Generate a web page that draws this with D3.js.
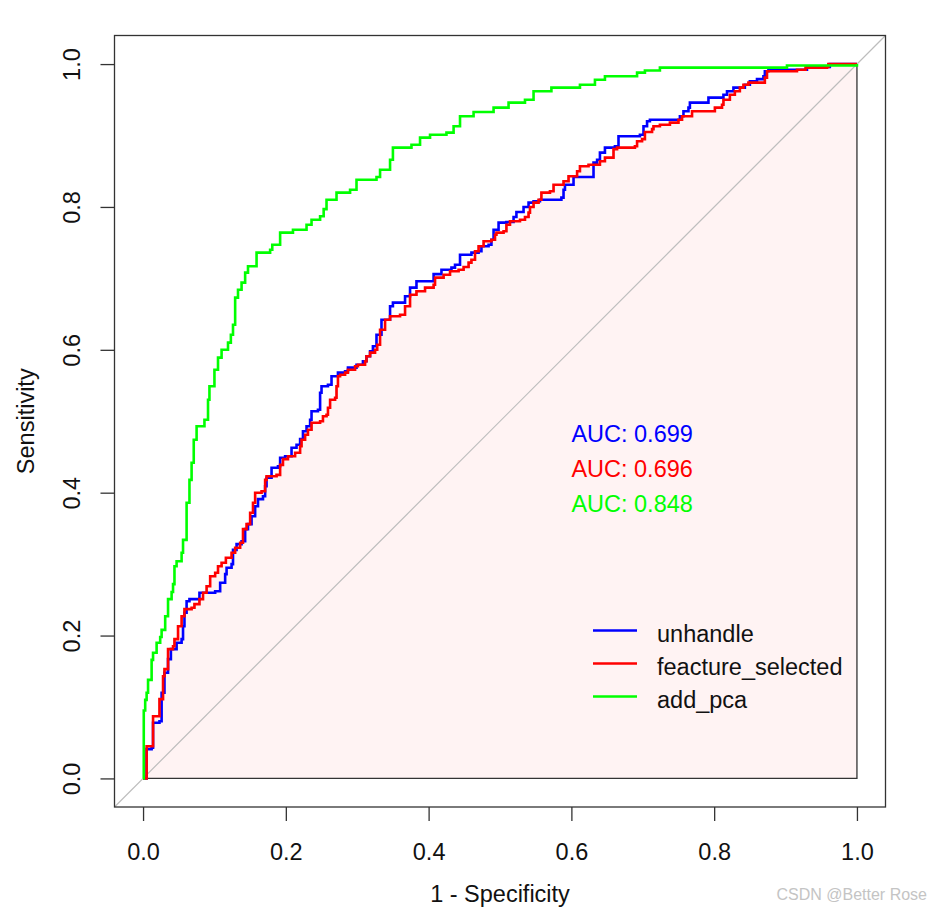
<!DOCTYPE html>
<html>
<head>
<meta charset="utf-8">
<script src="https://cdn.jsdelivr.net/npm/d3@7"></script>
<style>
  body { margin: 0; background: #fff; }
  svg { display: block; font-family: "Liberation Sans", Arial, sans-serif; }
</style>
</head>
<body>
<svg id="chart" width="931" height="910"></svg>
<script>
// ROC points, [1 - specificity, sensitivity]
var unhandle = [
  [0,0],[0.005,0.004],[0.005,0.041],[0.012,0.043],[0.014,0.078],[0.023,0.080],[0.026,0.120],
  [0.030,0.148],[0.035,0.167],[0.039,0.181],[0.047,0.190],[0.054,0.195],[0.056,0.213],[0.058,0.232],
  [0.061,0.248],[0.065,0.251],[0.079,0.260],[0.096,0.260],[0.101,0.262],[0.108,0.274],[0.115,0.286],
  [0.117,0.295],[0.124,0.300],[0.126,0.320],[0.131,0.328],[0.138,0.332],[0.143,0.349],[0.147,0.356],
  [0.152,0.367],[0.157,0.381],[0.161,0.391],[0.168,0.395],[0.171,0.409],[0.173,0.421],[0.180,0.435],
  [0.189,0.437],[0.192,0.449],[0.199,0.451],[0.208,0.463],[0.215,0.467],[0.220,0.475],[0.224,0.486],
  [0.229,0.493],[0.234,0.502],[0.236,0.514],[0.245,0.516],[0.248,0.540],[0.250,0.549],[0.259,0.551],
  [0.264,0.563],[0.273,0.568],[0.283,0.570],[0.287,0.575],[0.299,0.579],[0.308,0.584],[0.313,0.591],
  [0.318,0.598],[0.322,0.605],[0.327,0.621],[0.334,0.642],[0.346,0.661],[0.350,0.666],[0.360,0.666],
  [0.367,0.675],[0.374,0.687],[0.383,0.696],[0.397,0.696],[0.407,0.706],[0.418,0.712],[0.432,0.715],
  [0.437,0.719],[0.444,0.733],[0.460,0.736],[0.470,0.738],[0.474,0.745],[0.484,0.747],[0.488,0.754],
  [0.491,0.768],[0.498,0.778],[0.509,0.779],[0.519,0.786],[0.523,0.793],[0.533,0.800],[0.540,0.806],
  [0.547,0.808],[0.556,0.810],[0.570,0.810],[0.586,0.813],[0.589,0.824],[0.591,0.831],[0.603,0.842],
  [0.629,0.842],[0.631,0.862],[0.636,0.866],[0.640,0.876],[0.647,0.883],[0.661,0.885],[0.666,0.899],
  [0.696,0.901],[0.701,0.913],[0.706,0.920],[0.710,0.922],[0.743,0.922],[0.752,0.927],[0.757,0.934],
  [0.764,0.939],[0.766,0.946],[0.785,0.946],[0.792,0.953],[0.813,0.957],[0.818,0.962],[0.827,0.967],
  [0.843,0.971],[0.850,0.976],[0.860,0.979],[0.869,0.983],[0.871,0.990],[0.876,0.992],[0.925,0.992],
  [0.930,0.996],[0.960,0.996],[0.962,1],[1,1]
]

var feactureSelected = [
  [0,0],[0.005,0.003],[0.005,0.045],[0.012,0.045],[0.014,0.087],[0.021,0.087],[0.023,0.111],
  [0.026,0.111],[0.028,0.143],[0.030,0.153],[0.035,0.181],[0.042,0.185],[0.044,0.195],[0.049,0.213],
  [0.054,0.227],[0.058,0.237],[0.068,0.239],[0.072,0.244],[0.079,0.251],[0.084,0.260],[0.089,0.269],
  [0.094,0.283],[0.101,0.288],[0.105,0.297],[0.110,0.302],[0.116,0.309],[0.124,0.316],[0.129,0.323],
  [0.136,0.330],[0.140,0.349],[0.145,0.356],[0.150,0.372],[0.154,0.386],[0.157,0.400],[0.166,0.402],
  [0.171,0.418],[0.173,0.423],[0.187,0.425],[0.192,0.439],[0.196,0.447],[0.203,0.451],[0.213,0.456],
  [0.220,0.465],[0.222,0.474],[0.227,0.481],[0.231,0.488],[0.236,0.498],[0.248,0.500],[0.252,0.507],
  [0.257,0.509],[0.259,0.519],[0.262,0.530],[0.269,0.533],[0.271,0.549],[0.273,0.563],[0.276,0.565],
  [0.283,0.568],[0.287,0.572],[0.297,0.577],[0.301,0.579],[0.311,0.584],[0.313,0.591],[0.318,0.596],
  [0.325,0.600],[0.328,0.607],[0.332,0.628],[0.339,0.642],[0.346,0.647],[0.360,0.649],[0.367,0.661],
  [0.374,0.677],[0.383,0.682],[0.395,0.687],[0.407,0.691],[0.409,0.701],[0.421,0.705],[0.430,0.710],
  [0.442,0.712],[0.449,0.716],[0.456,0.722],[0.460,0.726],[0.465,0.738],[0.470,0.745],[0.477,0.752],
  [0.488,0.754],[0.493,0.761],[0.495,0.764],[0.505,0.766],[0.509,0.775],[0.514,0.780],[0.528,0.782],
  [0.535,0.786],[0.540,0.792],[0.542,0.800],[0.547,0.806],[0.554,0.810],[0.558,0.820],[0.570,0.822],
  [0.575,0.831],[0.589,0.836],[0.596,0.843],[0.608,0.850],[0.612,0.857],[0.624,0.859],[0.640,0.864],
  [0.647,0.869],[0.659,0.881],[0.664,0.883],[0.689,0.885],[0.692,0.892],[0.699,0.895],[0.703,0.905],
  [0.713,0.909],[0.715,0.913],[0.724,0.915],[0.738,0.918],[0.750,0.922],[0.755,0.927],[0.769,0.934],
  [0.792,0.934],[0.801,0.939],[0.811,0.943],[0.813,0.950],[0.822,0.957],[0.829,0.962],[0.836,0.967],
  [0.841,0.971],[0.848,0.974],[0.869,0.974],[0.871,0.981],[0.874,0.990],[0.914,0.990],[0.916,0.992],
  [0.928,0.995],[0.958,0.996],[0.960,1],[1,1]
]

var addPca = [
  [0,0],[0.001,0.095],[0.003,0.110],[0.005,0.120],[0.007,0.138],[0.012,0.166],[0.014,0.176],
  [0.019,0.190],[0.024,0.198],[0.026,0.208],[0.031,0.227],[0.035,0.251],[0.040,0.261],[0.042,0.272],
  [0.044,0.297],[0.047,0.304],[0.054,0.316],[0.056,0.334],[0.061,0.386],[0.065,0.418],[0.068,0.442],
  [0.071,0.474],[0.075,0.493],[0.086,0.502],[0.091,0.530],[0.093,0.549],[0.100,0.572],[0.105,0.589],
  [0.110,0.600],[0.119,0.610],[0.123,0.621],[0.126,0.635],[0.129,0.673],[0.133,0.684],[0.138,0.694],
  [0.143,0.708],[0.147,0.717],[0.159,0.736],[0.178,0.740],[0.181,0.747],[0.192,0.764],[0.210,0.768],
  [0.229,0.775],[0.236,0.782],[0.248,0.787],[0.253,0.797],[0.257,0.810],[0.271,0.820],[0.290,0.824],
  [0.299,0.838],[0.327,0.842],[0.332,0.852],[0.346,0.866],[0.350,0.883],[0.376,0.887],[0.388,0.897],
  [0.402,0.901],[0.425,0.904],[0.435,0.913],[0.444,0.927],[0.463,0.933],[0.491,0.939],[0.512,0.946],
  [0.535,0.950],[0.547,0.962],[0.572,0.967],[0.612,0.971],[0.633,0.978],[0.647,0.983],[0.692,0.988],
  [0.703,0.991],[0.724,0.995],[0.902,0.998],[1,1]
]

var seriesNames = ["unhandle", "feacture_selected", "add_pca"]
var seriesColors = ["#0000ff", "#ff0000", "#00ff00"]
var aucValues = [0.699, 0.696, 0.848]
var tickValues = [0, 0.2, 0.4, 0.6, 0.8, 1.0]

var svg = d3.select("#chart")
var fontSize = 23.5

// plot region, R style with 4% padding on each side
var x = d3.scaleLinear().domain([-0.04, 1.04]).range([114.5, 885.5])
var y = d3.scaleLinear().domain([-0.04, 1.04]).range([807, 35.5])

var rocLine = d3.line()
  .x(d => x(d[0]))
  .y(d => y(d[1]))
  .curve(d3.curveStepAfter)

// auc polygon under feacture_selected
svg.append("path")
  .attr("d", rocLine(feactureSelected.concat([[1, 0], [0, 0]])) + "Z")
  .attr("fill", "#fff3f3")
  .attr("stroke", "#333")
  .attr("stroke-width", 1.3)

// reference diagonal across whole box
svg.append("line")
  .attr("x1", x(-0.04)).attr("y1", y(-0.04))
  .attr("x2", x(1.04)).attr("y2", y(1.04))
  .attr("stroke", "#bdbdbd")
  .attr("stroke-width", 1.2)

var allSeries = [unhandle, feactureSelected, addPca]
svg.append("g")
  .selectAll("path")
  .data(allSeries)
  .join("path")
  .attr("d", d => rocLine(d))
  .attr("fill", "none")
  .attr("stroke", (d, i) => seriesColors[i])
  .attr("stroke-width", 2.6)

// box
svg.append("rect")
  .attr("x", 114.5).attr("y", 35.5)
  .attr("width", 885.5 - 114.5).attr("height", 807 - 35.5)
  .attr("fill", "none")
  .attr("stroke", "#333")
  .attr("stroke-width", 1.3)

var xAxis = svg.append("g")
  .attr("transform", "translate(0,807)")
  .call(d3.axisBottom(x).tickValues(tickValues).tickSize(14).tickPadding(22).tickFormat(d3.format(".1f")))
var yAxis = svg.append("g")
  .attr("transform", "translate(114.5,0)")
  .call(d3.axisLeft(y).tickValues(tickValues).tickSize(14).tickFormat(d3.format(".1f")))

svg.selectAll(".domain").remove()
svg.selectAll(".tick line").attr("stroke", "#333").attr("stroke-width", 1.3)
svg.selectAll(".tick text")
  .attr("font-family", "Liberation Sans, Arial, sans-serif")
  .attr("font-size", fontSize)
  .attr("fill", "#111")
yAxis.selectAll(".tick text")
  .attr("x", null).attr("dy", null)
  .attr("text-anchor", "middle")
  .attr("transform", "translate(-34.5,0) rotate(-90)")

svg.append("text")
  .attr("x", x(0.5)).attr("y", 902)
  .attr("text-anchor", "middle")
  .attr("font-size", fontSize)
  .attr("fill", "#111")
  .text("1 - Specificity")
svg.append("text")
  .attr("transform", "translate(34," + y(0.5) + ") rotate(-90)")
  .attr("text-anchor", "middle")
  .attr("font-size", fontSize)
  .attr("fill", "#111")
  .text("Sensitivity")

// auc labels
svg.append("g")
  .selectAll("text")
  .data(aucValues)
  .join("text")
  .attr("x", x(0.6))
  .attr("y", (d, i) => 441.7 + i * 35)
  .attr("font-size", fontSize)
  .attr("fill", (d, i) => seriesColors[i])
  .text(d => "AUC: " + d3.format(".3f")(d))

// legend
var legend = svg.append("g")
  .selectAll("g")
  .data(seriesNames)
  .join("g")
  .attr("transform", (d, i) => "translate(593," + (630.5 + i * 33) + ")")
legend.append("line")
  .attr("x1", 0).attr("x2", 44)
  .attr("stroke", (d, i) => seriesColors[i])
  .attr("stroke-width", 2.6)
legend.append("text")
  .attr("x", 64).attr("y", 11)
  .attr("font-size", fontSize)
  .attr("fill", "#111")
  .text(d => d)

svg.append("text")
  .attr("x", 927).attr("y", 900)
  .attr("text-anchor", "end")
  .attr("font-size", 16)
  .attr("fill", "#c4c4c4")
  .text("CSDN @Better Rose")
</script>
</body>
</html>
